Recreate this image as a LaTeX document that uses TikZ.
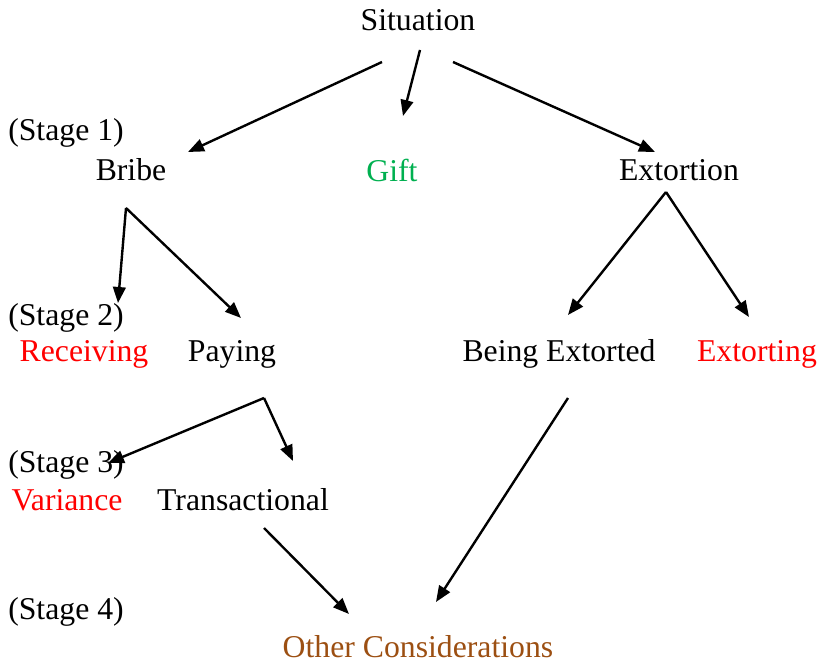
\documentclass[tikz,border=0pt]{standalone}
\usepackage{fontspec}
\setmainfont{Liberation Serif}
\usetikzlibrary{arrows.meta}
\definecolor{giftgreen}{HTML}{00B050}
\definecolor{redtxt}{HTML}{FF0000}
\definecolor{browntxt}{HTML}{9C4F12}
\begin{document}
\begin{tikzpicture}[x=0.75pt,y=-0.75pt,
  lbl/.style={inner sep=0pt,anchor=center,font=\fontsize{23.8pt}{28pt}\selectfont},
  arr/.style={line width=1.8pt,-{Triangle[length=12pt,width=9.5pt]}}]
\useasboundingbox (0,0) rectangle (822,663);
% texts
\node[lbl] (situation) at (418,20) {Situation};
\node[lbl,anchor=west] (stage1) at (8,133) {(Stage 1)};
\node[lbl] (bribe) at (131,170) {Bribe};
\node[lbl,text=giftgreen] (gift) at (392,170) {Gift};
\node[lbl] (extortion) at (679,170) {Extortion};
\node[lbl,anchor=west] (stage2) at (8,318) {(Stage 2)};
\node[lbl,text=redtxt] (receiving) at (84,354) {Receiving};
\node[lbl] (paying) at (232,354) {Paying};
\node[lbl] (beingext) at (559,354) {Being Extorted};
\node[lbl,text=redtxt] (extorting) at (757,354) {Extorting};
\node[lbl,anchor=west] (stage3) at (8,465) {(Stage 3)};
\node[lbl,text=redtxt] (variance) at (67,500) {Variance};
\node[lbl] (transactional) at (243,500) {Transactional};
\node[lbl,anchor=west] (stage4) at (8,612) {(Stage 4)};
\node[lbl,text=browntxt] (other) at (418,647) {Other Considerations};
% connector end points
\coordinate (s1) at (382,62);  \coordinate (e1) at (188,152);
\coordinate (s2) at (420,50);  \coordinate (e2) at (403,116);
\coordinate (s3) at (453,62);  \coordinate (e3) at (655,152);
\coordinate (b0) at (126,208);
\coordinate (e4) at (118,303); \coordinate (e5) at (241,318);
\coordinate (x0) at (666,192);
\coordinate (e6) at (568,315); \coordinate (e7) at (749,317);
\coordinate (p0) at (264,398);
\coordinate (e8) at (108,463); \coordinate (e9) at (293,461);
\coordinate (t0) at (264,528); \coordinate (e10) at (349,614);
\coordinate (g0) at (568,398); \coordinate (e11) at (436,602);
% connectors
\draw[arr] (s1) -- (e1);
\draw[arr] (s2) -- (e2);
\draw[arr] (s3) -- (e3);
\draw[arr] (b0) -- (e4);
\draw[arr] (b0) -- (e5);
\draw[arr] (x0) -- (e6);
\draw[arr] (x0) -- (e7);
\draw[arr] (p0) -- (e8);
\draw[arr] (p0) -- (e9);
\draw[arr] (t0) -- (e10);
\draw[arr] (g0) -- (e11);
\end{tikzpicture}
\end{document}
